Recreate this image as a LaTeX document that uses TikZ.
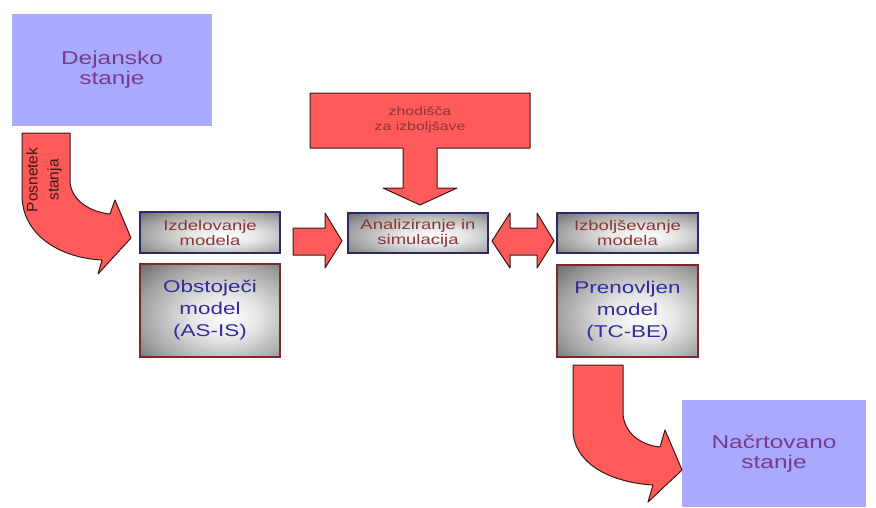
\documentclass[tikz,border=0pt]{standalone}
\usepackage{fontspec}
\setmainfont{Liberation Sans}
\newfontfamily\wide[FakeStretch=1.32]{Liberation Sans}
\definecolor{lav}{HTML}{A9A9FF}
\definecolor{arrred}{HTML}{FF5A5A}
\definecolor{arredge}{HTML}{3A1818}
\definecolor{purptext}{HTML}{7A3A8A}
\definecolor{redtext}{HTML}{8B3535}
\definecolor{bluetext}{HTML}{2E2E9E}
\definecolor{navyedge}{HTML}{2A2A6A}
\definecolor{maroonedge}{HTML}{7A2A2A}
\pgfdeclareradialshading{silver}{\pgfpoint{6bp}{-4bp}}{color(0bp)=(white); color(12bp)=(white!90!black); color(28bp)=(black!35); color(44bp)=(black!66); color(100bp)=(black!75)}
\tikzset{
  statebox/.style={fill=lav, draw=none, align=center, text=purptext,
    font=\wide\fontsize{18.5}{20}\selectfont, inner sep=0pt},
  smallbox/.style={draw=navyedge, line width=1.2pt, shading=silver,
    align=center, text=redtext, font=\wide\fontsize{14}{15}\selectfont, inner sep=0pt},
  bigbox/.style={draw=maroonedge, line width=1.2pt, shading=silver,
    align=center, text=bluetext, font=\wide\fontsize{17}{22}\selectfont, inner sep=0pt},
  blockarrow/.style={fill=arrred, draw=arredge, line width=1pt, line join=round},
}
\begin{document}
\begin{tikzpicture}[x=1pt,y=-1pt]
\useasboundingbox (0,0) rectangle (876,507);
\fill[white] (0,0) rectangle (876,507);

% state boxes
\node[statebox, minimum width=200pt, minimum height=112pt] (dej) at (112,70) {Dejansko\\stanje};
\node[statebox, minimum width=184pt, minimum height=107pt] (nac) at (774,453.5) {Na\v{c}rtovano\\stanje};

% model boxes
\node[smallbox, minimum width=140pt, minimum height=41pt] (izd) at (210,232.5) {Izdelovanje\\modela};
\node[bigbox, minimum width=140pt, minimum height=93pt] (obs) at (210,310.5) {Obstoje\v{c}i\\model\\(AS-IS)};
\node[smallbox, minimum width=140pt, minimum height=40pt] (ana) at (418,233) {Analiziranje in\\simulacija};
\node[smallbox, minimum width=141pt, minimum height=40pt] (izb) at (627.5,233) {Izbolj\v{s}evanje\\modela};
\node[bigbox, minimum width=141pt, minimum height=92pt] (pre) at (627.5,311) {Prenovljen\\model\\(TC-BE)};

% curved arrow from Dejansko stanje
\draw[blockarrow] (22,133) -- (70,133) -- (70,180)
  .. controls (70,200) and (90,212) .. (110,214) -- (115,200) -- (131,238) -- (98,274) -- (102,260)
  .. controls (60,258) and (22,235) .. (22,195) -- cycle;
\node[rotate=90, align=center, text=arredge, font=\fontsize{15.5}{21}\selectfont, inner sep=0pt] (pos) at (44,180) {Posnetek\\stanja};

% arrow izd -> ana
\draw[blockarrow] (293,228) -- (325,228) -- (325,213) -- (342,241) -- (325,268) -- (325,255) -- (293,255) -- cycle;

% double arrow ana <-> izb
\draw[blockarrow] (492,241) -- (510,213) -- (510,228) -- (537,228) -- (537,213) -- (554,241)
  -- (537,268) -- (537,255) -- (510,255) -- (510,268) -- cycle;

% top arrow
\draw[blockarrow] (310,93) -- (530,93) -- (530,148) -- (437,148) -- (437,188) -- (457,188) -- (420,205)
  -- (383,188) -- (403,188) -- (403,148) -- (310,148) -- cycle;
\node[align=center, text=redtext, font=\wide\fontsize{12}{15}\selectfont, inner sep=0pt] (zho) at (420,120) {zhodi\v{s}\v{c}a\\za izbolj\v{s}ave};

% curved arrow to Nacrtovano stanje
\draw[blockarrow] (573,365) -- (623,365) -- (623,412)
  .. controls (623,432) and (640,445) .. (660,447) -- (665,430) -- (682,470) -- (648,502) -- (653,485)
  .. controls (605,482) and (573,460) .. (573,430) -- cycle;
\end{tikzpicture}
\end{document}
